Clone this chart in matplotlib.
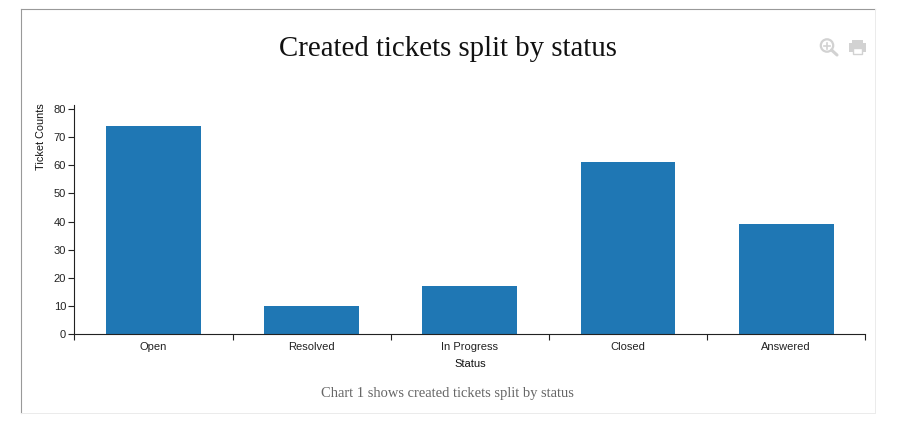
import matplotlib
matplotlib.use("Agg")
import matplotlib.pyplot as plt
from matplotlib.patches import Circle, Rectangle

categories = ["Open", "Resolved", "In Progress", "Closed", "Answered"]
values = [74, 10, 17, 61, 39]
yticks = [0, 10, 20, 30, 40, 50, 60, 70, 80]

W, H = 914, 428
fig = plt.figure(figsize=(W / 100, H / 100), dpi=100, facecolor="white")

# page overlay in pixel coordinates (y down)
bg = fig.add_axes([0, 0, 1, 1])
bg.set_xlim(0, W)
bg.set_ylim(H, 0)
bg.axis("off")
GD = "#999999"
GL = "#ebebeb"
bg.plot([21, 875], [9, 9], color=GD, lw=0.8)
bg.plot([21, 21], [9, 413], color=GD, lw=0.8)
bg.plot([875, 875], [9, 413], color=GL, lw=0.72)
bg.plot([21, 875], [413, 413], color=GL, lw=0.72)

SERIF = ["Liberation Serif", "DejaVu Serif"]
SANS = ["Liberation Sans", "DejaVu Sans"]
bg.text(447.5, 49, "Created tickets split by status", family=SERIF, fontsize=20.75,
        color="#111111", ha="center", va="center")
bg.text(447.5, 393, "Chart 1 shows created tickets split by status", family=SERIF,
        fontsize=10.45, color="#666666", ha="center", va="center")

# zoom icon
IC = "#d2d2d2"
bg.add_patch(Circle((827, 45.5), 6.2, fill=False, ec=IC, lw=1.6))
bg.plot([831.5, 837], [50, 55], color=IC, lw=2.2, solid_capstyle="round")
bg.plot([824, 830], [45.5, 45.5], color=IC, lw=1.2)
bg.plot([827, 827], [42.5, 48.5], color=IC, lw=1.2)
# print icon
bg.add_patch(Rectangle((852, 39.5), 11, 3, fc=IC, ec="none"))
bg.add_patch(Rectangle((849, 43), 17, 9, fc=IC, ec="none"))
bg.add_patch(Rectangle((853, 48), 9, 6, fc="white", ec=IC, lw=1))

# chart axes
x0, x1, ytop, ybot = 74.4, 865.3, 104.5, 334.3
ax = fig.add_axes([x0 / W, 1 - ybot / H, (x1 - x0) / W, (ybot - ytop) / H])
ax.patch.set_alpha(0)
ax.set_xlim(0, len(categories))
ax.set_ylim(0, (ybot - ytop) / 2.82)
positions = [i + 0.5 for i in range(len(categories))]
ax.bar(positions, values, width=0.6, color="#1f77b4", linewidth=0)

for s in ("top", "right"):
    ax.spines[s].set_visible(False)
for s in ("left", "bottom"):
    ax.spines[s].set_linewidth(0.8)
    ax.spines[s].set_color("#222222")

ax.set_yticks(yticks)
ax.set_yticklabels([str(v) for v in yticks], family=SANS, fontsize=8, color="#222222")
ax.set_xticks(range(len(categories) + 1))
ax.set_xticklabels([""] * (len(categories) + 1))
ax.set_xticks(positions, minor=True)
ax.set_xticklabels(categories, minor=True, family=SANS, fontsize=8, color="#222222")
ax.tick_params(axis="x", which="major", length=4.5, width=0.8, color="#222222")
ax.tick_params(axis="x", which="minor", length=0, pad=5.5)
ax.tick_params(axis="y", length=4.5, width=0.8, pad=1.5, color="#222222")

bg.text(470.5, 364, "Status", family=SANS, fontsize=8, color="#111111",
        ha="center", va="center")
bg.text(41.5, 137, "Ticket Counts", family=SANS, fontsize=7.8, color="#111111",
        rotation=90, ha="center", va="center")

fig.savefig("out.png", dpi=100)
